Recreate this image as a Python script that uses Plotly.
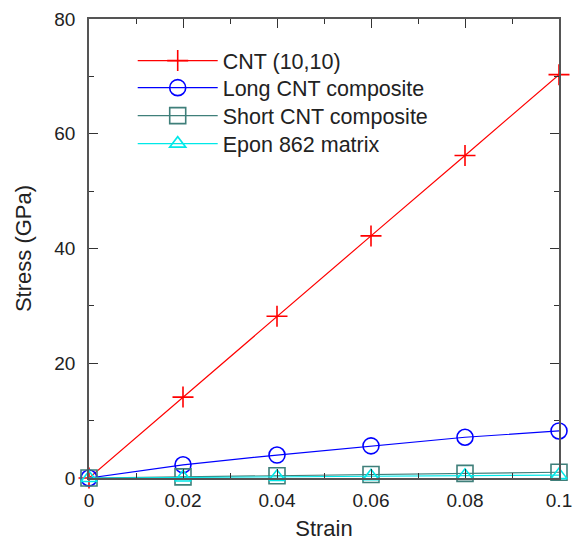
import plotly.graph_objects as go

strain = [0, 0.02, 0.04, 0.06, 0.08, 0.1]
cnt = [0, 14.1, 28.2, 42.2, 56.2, 70.3]
long_cnt = [0, 2.3, 4.0, 5.6, 7.1, 8.2]
short_cnt = [0, 0.2, 0.4, 0.6, 0.8, 1.0]
epon = [0, 0.1, 0.2, 0.3, 0.4, 0.5]

names = ["CNT (10,10)", "Long CNT composite", "Short CNT composite", "Epon 862 matrix"]
series = [cnt, long_cnt, short_cnt, epon]
colors = ["#ff0000", "#0000ff", "#3f7f7a", "#00e8e8"]
symbols = ["cross-thin-open", "circle-open", "square-open", "triangle-up-open"]
sizes = [15, 16, 16, 14]
legend_ids = ["legend", "legend2", "legend3", "legend4"]
legend_y = [0.954, 0.895, 0.834, 0.773]

font = "Liberation Sans, Arial, sans-serif"

fig = go.Figure()
for n, s, c, sym, sz, lid in zip(names, series, colors, symbols, sizes, legend_ids):
    fig.add_trace(go.Scatter(
        x=strain, y=s, name=n, mode="lines+markers",
        line=dict(color=c, width=1.2),
        marker=dict(symbol=sym, size=sz, color=c, line=dict(color=c, width=1.6)),
        cliponaxis=False, legend=lid, showlegend=True,
    ))

axis_common = dict(
    showline=True, linecolor="#555555", linewidth=1.5, mirror="allticks",
    ticks="inside", ticklen=9, tickcolor="#333333", tickwidth=1,
    showgrid=False, zeroline=False, automargin=False,
    tickfont=dict(family=font, size=19, color="#222"),
)
fig.update_xaxes(range=[0, 0.1], tickvals=[0, 0.02, 0.04, 0.06, 0.08, 0.1],
                 ticktext=["0", "0.02", "0.04", "0.06", "0.08", "0.1"],
                 ticklabelstandoff=4,
                 minor=dict(ticks="inside", ticklen=5, tickvals=[0.01, 0.03, 0.05, 0.07, 0.09], tickcolor="#333333"),
                 title=dict(text="Strain", font=dict(family=font, size=22, color="#222"), standoff=11),
                 **axis_common)
fig.update_yaxes(range=[0, 80], tickvals=[0, 20, 40, 60, 80],
                 ticklabelstandoff=8,
                 minor=dict(ticks="inside", ticklen=5, tickvals=[10, 30, 50, 70], tickcolor="#333333"),
                 title=dict(text="Stress (GPa)", font=dict(family=font, size=22, color="#222"), standoff=17),
                 **axis_common)

legend_style = dict(x=0.093, xanchor="left", yanchor="top", visible=True,
                    bgcolor="rgba(0,0,0,0)", font=dict(family=font, size=21.5, color="#222"),
                    itemwidth=80, tracegroupgap=0)
legends = {lid: dict(y=ly, **legend_style) for lid, ly in zip(legend_ids, legend_y)}

fig.update_layout(
    width=581, height=541,
    margin=dict(l=81, r=30, t=11, b=71),
    plot_bgcolor="white", paper_bgcolor="white",
    font=dict(family=font, size=20, color="#222"),
    showlegend=True,
    **legends,
)

fig.write_html("out.html")
